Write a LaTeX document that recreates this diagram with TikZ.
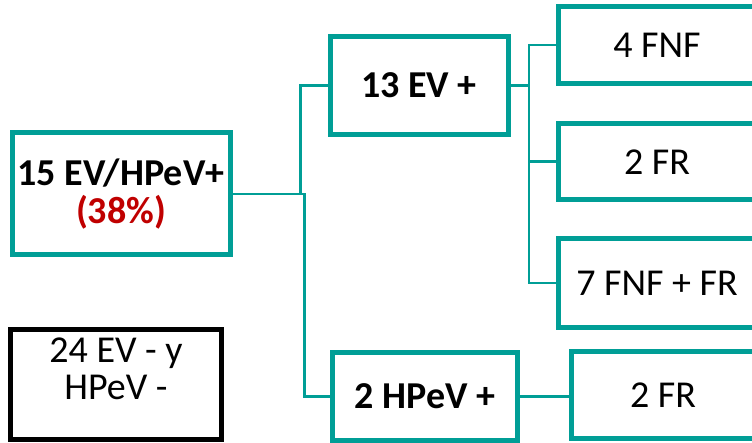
\documentclass[tikz,border=0pt]{standalone}
\usepackage{fontspec}
\setmainfont{Carlito}
\definecolor{teal1}{RGB}{0,158,150}
\definecolor{red1}{RGB}{192,0,0}
\begin{document}
\begin{tikzpicture}[x=1pt,y=-1pt,
  box/.style={draw=teal1,line width=5pt,fill=white,align=center,inner sep=0pt,
    font=\fontsize{38}{38}\selectfont},
  blk/.style={draw=black,line width=5pt,fill=white,align=center,inner sep=0pt,
    font=\fontsize{38}{37}\selectfont},
  conn/.style={draw=teal1,line width=2.5pt}]
\useasboundingbox (0,0) rectangle (752,443);
\begin{scope}
\clip (0,0) rectangle (752,443);
\node[box,minimum width=218pt,minimum height=122pt] (b1) at (121,194) {\textbf{15 EV/HPeV+}\\\textcolor{red1}{\textbf{(38\%)}}};
\node[box,minimum width=178pt,minimum height=98pt] (ev) at (419,85.5) {\textbf{13 EV +}};
\node[box,minimum width=198pt,minimum height=77pt] (f1) at (657,45) {4 FNF};
\node[box,minimum width=198pt,minimum height=76.5pt] (f2) at (657,161.75) {2 FR};
\node[box,minimum width=198pt,minimum height=88.5pt] (f3) at (657,283) {7 FNF + FR};
\node[box,minimum width=184.5pt,minimum height=87pt] (hp) at (425,396.5) {\textbf{2 HPeV +}};
\node[box,minimum width=184pt,minimum height=87.5pt] (fr) at (663,395) {2 FR};
\node[blk,minimum width=210.5pt,minimum height=109pt,text depth=32pt] (neg) at (116,384.5) {24 EV - y\\HPeV -};
\draw[conn] (b1.east) -- ++(68,0) |- (ev.west);
\draw[conn] (b1.east) -- ++(72,0) |- (hp.west);
\draw[conn] (ev.east) -- ++(18.5,0) |- (f1.west);
\draw[conn] (ev.east) -- ++(18.5,0) |- (f2.west);
\draw[conn] (ev.east) -- ++(18.5,0) |- (f3.west);
\draw[conn] (hp.east) -- (fr.west |- hp.east);
\end{scope}
\end{tikzpicture}
\end{document}
